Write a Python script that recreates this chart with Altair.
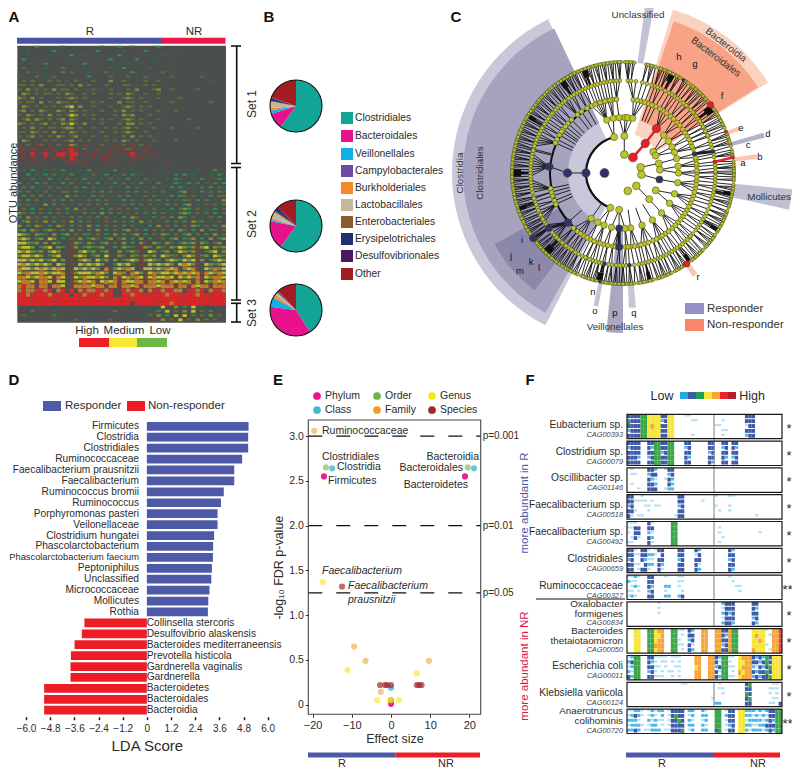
import math
import altair as alt
import pandas as pd

FONT = "Liberation Sans"
INK = "#2b2b2b"

# ---------- Panel A ----------
HEAT_LEVELS = {"d": "#2f6a48", "g": "#2c9150", "o": "#5f6a38", "v": "#7f8c30", "y": "#bdbf2e",
               "a": "#c07a2c", "m": "#7c4038", "r": "#d9272a"}
HEAT_THICK = {"d": 0.45, "g": 0.45, "o": 0.5, "v": 0.6, "y": 0.65, "a": 0.9, "m": 0.6, "r": 1.0}
A_ROWS = [
"....g.....d........d...g..d.....g...............",
"..d.....g.........g.....d....g......d...........",
".......d....g..d.......g.........d..............",
".g.........d.........g.....g...d................",
"...d..g........g..d......d.........d............",
".o....d...o..........d..g.....d.................",
"..o.d.....g.o...d...o.....g......o..............",
"d...o.d.o.......g....o...o.d.o.....o......o.....",
".o.o...o.o.d.o...o...v..o....o..o...........d...",
"oo.o.v...oo.o.v.o...o...oo.d.o.o................",
"o.v.o.o.v.oo.o...o.d.o...o.v...ov..o.....o......",
".vo.o.oo.o.vo..o.o...o.o.vo..o..o...............",
"vo.v.o...o.ovo.o.....o..ovo.o...o....o..........",
"o.oo.v.o.voo.o...o.o...v.oo..o.....o........o...",
".vo.o.o.o.ovy.v..o...o..ovo.o.o.................",
"ov.o.vo..vo.vo.o...o..o.v.o.o...o...o...........",
"o.vo.o.v.o.oyv.o.o....o.vov...o.................",
".ov.vo.o.ov.vo...o.o.o..ovo.o...o......o........",
"vo.o.ov.o.voyo.v...o...o.vv.o.o.................",
".o.v.o.oo.ovv.o..o..o.o.ov.o...o...o.....o......",
"oo.vo.o.v.o.vo.o...o..o.ovo..o..................",
"o.ov.o.o.vo.ov...o..o...o.v.o.o.................",
".vo.m.o.o.mov.o.o...o.o.vo.o...o....o...........",
"m.o.mo.m.o.mvo.m...o..m.o.m.o.m.................",
".m.mm.m.m.mmrm.o..m..m..mom..m..................",
"mm.r.mrm.rrmrr.m.m..mm.m.mrm.m.m................",
".m.m..m.m.m.rm...m.mm.....m.m...................",
"m..m.m.....m.m.m....m.m...m.......m.............",
"................................................",
".d.g..d.d.g...d.g..d..g...d....d.........d...g..",
"..g.d.g.o.d.g..d.o..g.d.o.g.d....d..g.g.d...d.gd",
".d.o.d.g.d.o.d.g.d.d.o.d.g.d.o.d..d.gd..d.g..dgd",
"g.d.g.o.d.g.o.d.o.g.d.g.o.d.g.d.g...gd.g.o.d.o.g",
".o.g.d.o.o.d.o.g.o.d.o.d.g.o.d.o.d.g.gd.d.o.g.od",
"g.o.d.o.d.oo.g.d.o.g.o.d.o.g.o.d.o...gv.d.g.o.go",
".g.o.g.o.d.v.o.d.g.o.d.o.g.d.o.o.d.g.go.o.d.g.oo",
"o.g.o.d.o.g.o.d.o.g.o.d.g.o.d.o.g.o.d.go.g.o.d.v",
"g.o.d.v.g.o.d.o.o.o.g.d.o.g.o.o.d.g.o.gv.d.o.o.g",
".o.g.o.d.o.g.v.o.d.g.o.o.o.g.d.o.d.g.ovg.o.d.g.o",
"vo.g.o.g.o.o.d.g.o.v.g.o.d.o.o.g.o.d.gvg.o.o.g.o",
"g.v.o.g.o.d.g.o.o.g.o.d.g.vo.d.g.o.g.vg.o.d.o.g.",
".gv.o.v.g.o.v.g.o.d.o.g.o.g.v.o.d.g.o.g.vog.d.o.v",
"v.g.vo.g.vo.g.o.v.g.o.o.g.o.d.g.v.o.g.o.vg.o.g.v.",
"gv.vo.gvo.g.v.o.g.v.g.o.gv.o.g.o.o.g.vo.g.v.go.o.",
"yvg.vgo.v.gv.o.go.o.g.v.g.ov.g.o.vg.o.gv.o.g.v.og",
"vyv.gv.yv.g.o.v.gvo.gv.ov.g.v.g..o.gv.gov.g.v.gvo",
"yyvgv.v.vg..mvg.vo.gv.o.v.g.vm.vg.vo.gvgv.vg.ov.v",
"vyyv.gvy.vg.mv.gvgov..g.vgo.mvg.vo.vgyvgvmvy.vgv.",
"yvyvgv.vyv..m.vygv.gv..v.gvom.yv.gv.oyvgvm.gvy.vg",
"vyyvyv.gvy..mvyv.gv.y..vo.vgmvgv.yvgo.vyvmgv.yvgv",
"yyvyvygvy.v.m.vyv.ygv.v.gvyvmvyvg.vyvgyvymv.gvyv",
"yayvyvyv.yv.m.yvyvyv..gyvyo.m.yvyvyv.yayvm.yvgvyv",
"ayyvyayvyay.myvyvyv.a.vyvay.myyvyvaya.vyam.yvavya",
"yvayyayvyya.mvyyyvayv.yav.ayvmyavyyvyayayamayvayv",
"aayvyaaymay.myvayyvyv.amyavaymyayyaymyvyvamyvaaya",
"yaaymaaymyy.mvyayamyayamayyaamaayamayayamamyvayaa",
"araamaamaay.maaaayaamaamaayamaaayaaamaamayaamaaam",
"araarrarmar.rmaraarrar.mrarramarrarraamrrarmarra",
"rrarrrrarrrrmrrarrrarr.mrrarrrrrrrarrrrrrarrrrrrr",
"rrrrrrrrrrrrrrrrrrrrrrrrrrrrrrrrrrrrrrrrrrrrrrrrr",
"rrrrrrrrrrrrrrrrrrrrrrrrrrmrrrrrrrrarrrrrrrrrrrrr",
".................................y..v.g.y.d......",
"...o....d.............o.........g.y.o.v.y.o.g....",
".o......o.....d...............o.v.g.y.y.g.o.v.o..",
"........d....o.......o.........m.v.o.y.o.v.g.o...",
]

# ---------- Panel B ----------
ORDERS = ["Clostridiales", "Bacteroidales", "Veillonellales", "Campylobacterales", "Burkholderiales",
          "Lactobacillales", "Enterobacteriales", "Erysipelotrichales", "Desulfovibrionales", "Other"]
ORDER_COLORS = ["#12a596", "#e8128c", "#12aee8", "#6f4ba0", "#f58a2a", "#c4b89a", "#8a5a28", "#22306e",
                "#4a1a5e", "#a31c22"]
PIE_SET1 = [60, 10, 2, 0.3, 1.5, 4, 0.5, 1.5, 0.7, 19.5]
PIE_SET2 = [60, 18, 1, 0.2, 1, 4, 1, 2, 1, 11.8]
PIE_SET3 = [41, 36, 6, 0.2, 2, 1.5, 0.5, 0.4, 0.4, 12]

# ---------- Panel C ----------
RING1 = [4, 32.5, 72, 95, 134, 165, 270]
RING2 = [2, 37, 55, 62, 75, 85, 100, 118, 135, 186, 200, 270, 346]
RING3 = [2, 5, 10, 37, 47, 55, 62, 68, 75, 83, 90, 100, 112, 123, 136, 148, 160, 172, 178, 184, 192, 200, 207,
         215, 270, 343, 350, 356]
RING4 = [8, 14, 20, 26, 33, 40, 47, 54, 60, 66, 71, 75, 80, 85, 90, 96, 102, 108, 114, 120, 126, 132, 138, 145,
         150, 156, 163, 168, 174, 178, 183, 188, 195, 200, 206, 212, 218, 228, 248, 252, 255, 275, 297, 301,
         306, 312, 322, 335, 340, 344, 348, 352,
         11, 17, 23, 30, 36, 43, 50, 57, 63, 69, 78, 83, 88, 93, 99, 105, 111, 117, 123, 129, 135, 142, 148, 153, 160,
         166, 171, 176, 186, 192, 198, 203, 209, 215, 222, 245, 258, 294, 304, 309, 316, 326, 331, 338, 342, 346,
         350, 355]
RING5 = [3, 8, 15, 20, 24, 27, 30, 34, 38, 41, 44, 47, 50, 54, 58, 61, 64, 67, 70, 74, 76.5, 80, 83, 87, 90, 94,
         98, 102, 106, 110, 113, 116, 120, 124, 128, 131, 134, 138, 142, 146, 150, 154, 158, 162, 166, 170, 173,
         176, 180, 184, 187, 191.5, 195, 199, 203, 206, 209, 213, 216, 219, 222, 225, 228, 233.5, 238, 241, 244,
         248, 252, 255, 258, 262, 266, 270, 274, 278, 282, 285, 289, 293, 297, 300, 304, 308, 311, 315, 319,
         322, 326, 330, 334, 338, 342, 346, 350, 354, 358,
         5, 12, 18, 22, 32, 36, 43, 49, 52, 56, 60, 63, 66, 72, 78, 85, 89, 92, 96, 100, 104, 108, 118, 122, 126, 133,
         136, 140, 144, 148, 152, 156, 160, 164, 168, 178, 182, 189, 193, 197, 201, 204, 211, 214, 218, 221, 224, 226,
         230, 236, 240, 243, 246, 250, 254, 260, 264, 268, 272, 276, 280, 284, 287, 291, 295, 299, 302, 306, 310,
         313, 317, 321, 324, 328, 332, 336, 340, 344, 348, 352, 356]
RING6 = [1, 3, 5, 12, 14, 16, 19, 21, 23, 24, 26, 28, 30, 33, 35, 38, 40, 42, 43, 45, 47, 49, 52, 54, 56, 57, 59,
         61, 63, 65, 68, 70, 72, 73, 75, 78, 80, 82, 85, 87, 88, 90, 92, 94, 97, 99, 101, 103, 104, 106, 108, 111,
         113, 114, 116, 118, 120, 122, 125, 127, 128, 130, 132, 135, 137, 138, 140, 142, 145, 147, 149, 150, 152,
         155, 157, 158, 160, 162, 165, 167, 168, 170, 172, 175, 177, 179, 181, 183, 185, 187, 188, 190, 192, 195,
         197, 199, 200, 202, 205, 207, 209, 210, 212, 214, 216, 218, 219, 221, 223, 225, 227, 229, 230, 232, 234,
         236, 238, 240, 242, 243, 245, 247, 249, 251, 252, 254, 256, 258, 260, 261, 263, 265, 267, 269, 270, 272,
         274, 276, 278, 279, 281, 283, 285, 287, 288, 290, 292, 294, 296, 298, 299, 301, 303, 305, 307, 309, 310,
         312, 314, 316, 318, 319, 321, 323, 325, 327, 329, 331, 333, 335, 337, 339, 341, 343, 345, 347, 349, 351,
         353, 355, 357, 359,
         2, 4, 6, 13, 15, 17, 20, 22, 25, 27, 29, 31, 34, 36, 39, 41, 44, 46, 48, 50, 53, 55, 58, 60, 62, 64, 66, 69,
         71, 74, 76, 79, 81, 84, 86, 89, 91, 93, 96, 98, 100, 102, 105, 107, 110, 112, 115, 117, 119, 121, 124, 126,
         129, 131, 134, 136, 139, 141, 144, 146, 148, 151, 154, 156, 159, 161, 164, 166, 169, 171, 174, 176, 178,
         180, 182, 184, 186, 189, 191, 194, 196, 198, 201, 204, 206, 208, 211, 213, 215, 217, 220, 222, 224, 226,
         228, 231, 233, 235, 237, 239, 241, 244, 246, 248, 250, 253, 255, 257, 259, 262, 264, 266, 268, 271, 273,
         275, 277, 280, 282, 284, 286, 289, 291, 293, 295, 297, 300, 302, 304, 306, 308, 311, 313, 315, 317, 320,
         322, 324, 326, 328, 330, 332, 334, 336, 338, 340, 342, 344, 346, 348, 350, 352, 354, 356, 358]
BLUE_NODES = [(1, 270), (2, 270), (3, 270), (4, 275), (4, 228), (5, 233.5), (6, 234), (3, 184), (4, 183), (2, 100),
              (5, 176), (4, 75), (5, 76.5), (6, 33), (5, 191.5), (6, 192)]
RED_NODES = [(1, 32.5), (2, 37), (3, 37), (6, 52), (6, 145), (5, 83), (6, 82), (6, 68)]
SECTORS = [
    (207, 334, 36, 171, "#c8c8da"), (209, 334.5, 55, 160, "#a5a3be"), (217, 241, 73, 147, "#8b88a9"),
    (17, 58, 40, 171, "#fbd2c0"), (18.5, 57.5, 55, 160, "#f8a286"),
    (7.5, 10.5, 111, 173, "#c3c3d6"), (95.5, 102.5, 111, 170, "#c0c0d2"), (74, 76, 111, 146, "#b3b2cb"),
    (68, 70, 111, 125, "#fbc6b0"), (82, 84, 111, 135, "#fbc6b0"), (143.5, 146, 111, 125, "#fbc6b0"),
    (190.5, 192.5, 111, 136, "#c3c3d6"), (180, 186, 55, 160, "#a9a7c1"), (174.5, 177.5, 111, 135, "#c6c6d8"),
]
THICK_ARCS = [(200, 346, 37, 1.1), (228, 334, 73, 1.0), (212, 240, 73, 1.0)]
BLACK_WEDGES = [(325, 328), (52, 56), (25, 28), (268, 272), (191, 194), (222, 226), (142, 144), (338, 341), (120, 122),
                (100, 102), (250, 252), (300, 302), (165, 167)]
THICK_BLACK = [(3, 184, 4, 183), (4, 75, 5, 76.5), (5, 233.5, 6, 234), (4, 228, 5, 233.5)]
THICK_RED = [(1, 32.5, 2, 37), (2, 37, 3, 37), (5, 83, 6, 82)]

# ---------- Panel D ----------
LDA_NAMES = ["Firmicutes", "Clostridia", "Clostridiales", "Ruminococcaceae", "Faecalibacterium prausnitzii",
             "Faecalibacterium", "Ruminococcus bromii", "Ruminococcus", "Porphyromonas pasteri", "Veilonellaceae",
             "Clostridium hungatei", "Phascolarctobacterium", "Phascolarctobacterium faecium", "Peptoniphilus",
             "Unclassified", "Micrococcaceae", "Mollicutes", "Rothia", "Collinsella stercoris",
             "Desulfovibrio alaskensis", "Bacteroides mediterraneensis", "Prevotella histicola",
             "Gardnerella vaginalis", "Gardnerella", "Bacteroidetes", "Bacteroidales", "Bacteroidia"]
LDA_VALUES = [5.05, 5.03, 5.03, 4.73, 4.34, 4.34, 3.82, 3.68, 3.51, 3.51, 3.34, 3.29, 3.28, 3.23, 3.2, 3.11, 3.05,
              3.03, -3.1, -3.23, -3.59, -3.77, -3.79, -3.79, -5.1, -5.1, -5.1]
LDA_TICKS = [-6, -4.8, -3.6, -2.4, -1.2, 0, 1.2, 2.4, 3.6, 4.8, 6]

# ---------- Panel E ----------
EFFECT = [-17.1, 18.9, 0, -16.6, 19.6, 0, -15, 21.2, 0, -19.6, -9.4, -6.5, 9.7, -2.6, 0, -17.4, -11.1, 6.6, -3.5, 2,
          -0.3, -12.5, -2.8, -1.5, -1, 0, 6.6, 7.2, 7.8]
FDR = [2.55, 2.55, 0.01, 2.65, 2.65, 0.05, 2.64, 2.64, 0.19, 3.06, 0.65, 0.49, 0.49, 0.145, 0.05, 1.37, 0.39, 0.35,
       0.05, 0.05, 0.05, 1.32, 0.22, 0.22, 0.22, 0.22, 0.22, 0.22, 0.22]
RANK = ["Phylum"] * 3 + ["Order"] * 3 + ["Class"] * 3 + ["Family"] * 6 + ["Genus"] * 6 + ["Species"] * 8
RANK_COLORS = {"Phylum": "#e8168c", "Class": "#45b8d0", "Order": "#6fb543", "Family": "#f59a23", "Genus": "#f5e616",
               "Species": "#a3282a"}
RANK_OPACITY = {"Phylum": 0.95, "Class": 0.8, "Order": 0.6, "Family": 0.55, "Genus": 0.6, "Species": 0.7}
P_LINES = [3.0, 2.0, 1.25]
P_LABELS = ["p=0.001", "p=0.01", "p=0.05"]

# ---------- Panel F ----------
F_COLORS = {"l": "#b5e0f2", "c": "#4db8e8", "b": "#3f58a8", "g": "#3aa648", "y": "#f5e63a", "o": "#f7a53a", "r": "#e8492a"}
F_THICK = {"l": 0.45, "c": 0.6, "b": 0.8, "g": 1, "y": 1, "o": 1, "r": 1}
F_SCALE = ["#29abe2", "#3f58a8", "#1fa04f", "#f5e63a", "#f7a53a", "#e8262c", "#b5202c"]
F_STRIPS = [
 ["bbbbggyyyybbyy...ll................bbb........", "gbbbggyyyycbyy.....ll.......l......bbb........",
  "bbbbggyoyybbyy............ll.......lbb........", "cbbbggyyyybbyy..............ll.....bbb........",
  "bbbbggyyyybbyy.....l........l......cbb........"],
 ["bbbb..bbggbbgg...bb.....bb..bb.bb.............", "cbbb..bcggbbgg...cb.....bb..cb.bc.............",
  "bbbb..bbggcbgg...bb.....cb..bb.bb.............", "bbbc..cbggbbgg...bc.....bb..bc.cb.............",
  "bbbb..bbggbbgg...bb.....bc..bb.bb............."],
 [".l....bbc..lbb................................", ".ll...cbb...cb................................",
  "......bcl..lbc................................", ".l....bbc...bc................................",
  "...l..bbb..lcc................................"],
 ["bb..l..........bb.........l...ll..............", "bbllll.l.......bb.....l.......................",
  "cb...ll.ll.....cb.........l...l...............", "bbl...l........bb..........l..l...............",
  "bl.ll.........lbb.....................l......."],
 ["lll...bl.....gg...............................", "llbb..bb.....gg............l..................",
  "l.bb..cl.....gg............l...........l......", ".lbl..bc.....gg.............l.................",
  "ll....bl.....gg............l.................."],
 ["bbl.bbl.lbb....bb...bc........bc..............", "bbllbbccl.b....bb...lb........bb..............",
  "cb..bcll.bb....cb...bb........cb..............", "bbll.bcc.bc....bb...bl........bb..............",
  "bb.lbbl..bl....bb...bc........bc.............."],
 ["llcl..bb...l...ll.............l...............", "cll...bb.......ll..............l..............",
  ".lcl..bc...cc..l................ll............", "ll.l..cb...l....l................l............",
  "lcl...bb...cc..cb............................."],
 [".........l..................cbbb.....bb.......", ".........l..................lbbb.....bc.......",
  ".........l..................cbcb.....bb.......", "............................lbbb.....cb.......",
  "............................cbbc.....bc......."],
 ["..yy..ggyoo..ggll.bc..oo..oobbogg....yyyyl.oor", "..yy..ggyyo..gg.l.bb..oo..oobcogg....yoyy.loor",
  "..yy..ggyoo..ggl..cb..oo..oobbogg....yyoy..oor", "..yy..ggooo..ggll.bl..oo..oocbogg....yyyyl.oor",
  "..yy..ggyoo..gg.l.bc..oo..oobbogg....oyyy.loor"],
 ["lcgg..bbllll.lll....oo..oobcggll.yooobcbcgbyyy", "cbgg..bcl.ll.l.l....oo..ooblggl..yyoobbcbgbyyy",
  "lcgg..bbll.l..ll....yo..oocbggll.yoooclbcbgyyy", "clgg..cbl.l.ll.l....oo..ooblgg.l.oyoobcbbgbyyy",
  "bcgg..bblll..l.l....oo..oobcggll.yooocbcbbgyyy"],
 ["................ll.........l.......bg......ll.", "...........................ll......bb.....lll.",
  "............................l......gb.....l.l.", ".........................l.........bg......ll.",
  "..........................cc.......bb.....ll.b"],
 ["llccl.lclcc.lbbbb.cc..cl..gg.lbb.yyccclclcbbgg", "lcbcl.lcl.c.lbgbb.lc..cc..gg.cbb.yycclclclbbgg",
  "cccl..clcll.lbbgb.cl..lc..gg.lbb.yylcccclcbcgg", "lcccl.lcc.l.lbbbb.cc..cl..gg.lcb.yyccllccbbbgg",
  "ccbc.llccc.llbbbg.lc..cc..bg.lbb.yyclccclcbcgg"],
]
F_NAMES = [["Eubacterium sp."], ["Clostridium sp."], ["Oscillibacter sp."], ["Faecalibacterium sp."],
           ["Faecalibacterium sp."], ["Clostridiales"], ["Ruminococcaceae"], ["Oxalobacter", "formigenes"],
           ["Bacteroides", "thetaiotaomicron"], ["Escherichia coli"], ["Klebsiella variicola"],
           ["Anaerotruncus", "colihominis"]]
F_CODES = ["CAG00393", "CAG00079", "CAG01146", "CAG00518", "CAG00492", "CAG00659", "CAG00327", "CAG00834",
           "CAG00050", "CAG00011", "CAG00124", "CAG00720"]
F_STARS = ["*", "*", "*", "*", "*", "*", "**", "*", "*", "*", "*", "**"]


def px(v):
    return v - 8


def py(v):
    return v - 8


def no_x(f="x"):
    return alt.X(f"{f}:Q", scale=None, axis=None)


def no_y(f="y"):
    return alt.Y(f"{f}:Q", scale=None, axis=None)


def texts(rows, size=11, color=INK, align="center", font=FONT, **kw):
    df = pd.DataFrame([{"x": px(a), "y": py(b), "t": c} for a, b, c in rows])
    return alt.Chart(df).mark_text(fontSize=size, color=color, align=align, baseline="middle", font=font, **kw).encode(
        x=no_x(), y=no_y(), text="t:N")


def rects(rows):
    df = pd.DataFrame([{"x": px(a), "y": py(b), "x2": px(c), "y2": py(d), "c": e} for a, b, c, d, e in rows])
    return alt.Chart(df).mark_rect().encode(x=no_x(), x2="x2:Q", y=no_y(), y2="y2:Q",
                                            color=alt.Color("c:N", scale=None))


def rules(rows, width=1.5, color="#111111", **kw):
    df = pd.DataFrame([{"x": px(a), "y": py(b), "x2": px(c), "y2": py(d)} for a, b, c, d in rows])
    return alt.Chart(df).mark_rule(strokeWidth=width, color=color, **kw).encode(x=no_x(), x2="x2:Q", y=no_y(), y2="y2:Q")


layers = []

# Panel letters
layers.append(texts([(14, 17, "A"), (269, 17, "B"), (456, 17, "C"), (14, 380, "D"), (278, 380, "E"), (530, 380, "F")],
                    size=15, color="#111111", fontWeight="bold"))

# ----- A
layers.append(rects([(17.3, 45.7, 226, 322.7, "#4a4e4c")]))
a_cells = [{"col": j, "col2": j + 1, "row": i, "row2": i + HEAT_THICK[ch], "c": HEAT_LEVELS[ch]}
           for i, row in enumerate(A_ROWS) for j, ch in enumerate(row[:48]) if ch != "."]
layers.append(alt.Chart(pd.DataFrame(a_cells)).mark_rect().encode(
    x=alt.X("col:Q", scale=alt.Scale(domain=[0, 48], range=[px(17.3), px(226)], nice=False, zero=False), axis=None),
    x2="col2:Q",
    y=alt.Y("row:Q", scale=alt.Scale(domain=[0, len(A_ROWS)], range=[py(45.7), py(322.7)], nice=False, zero=False),
            axis=None),
    y2="row2:Q",
    color=alt.Color("c:N", scale=None)))
layers.append(rects([(17, 37.7, 162, 43.7, "#4a52a3"), (162, 37.7, 225.5, 43.7, "#ee1848"),
                     (79, 338, 109, 347, "#ee2024"), (109, 338, 137, 347, "#f7e92f"), (137, 338, 167, 347, "#6cb844")]))
layers.append(texts([(90, 32, "R"), (194, 32, "NR"), (87, 331, "High"), (124, 331, "Medium"), (160, 331, "Low")], size=11.5))
layers.append(rules([(236.7, 46, 236.7, 163.5), (236.7, 167.5, 236.7, 300), (236.7, 303.3, 236.7, 322),
                     (231, 46, 241, 46), (231, 163.5, 241, 163.5), (231, 167.5, 241, 167.5), (231, 300, 241, 300),
                     (231, 303.3, 241, 303.3), (231, 322, 241, 322)], width=1.6))
layers.append(texts([(252, 104, "Set 1"), (252, 224, "Set 2"), (252, 313, "Set 3")], size=12, angle=270))
layers.append(texts([(13.5, 183, "OTU abundance")], size=11, angle=270))

# ----- B
pie_rows = []
ring_rows = []
for cy, vals in [(106, PIE_SET1), (226, PIE_SET2), (310, PIE_SET3)]:
    total = sum(vals)
    acc = 0.0
    for v, c in zip(vals, ORDER_COLORS):
        pie_rows.append({"x": px(296), "y": py(cy), "a": acc / total * 2 * math.pi,
                         "a2": (acc + v) / total * 2 * math.pi, "r": 26, "c": c})
        acc += v
    ring_rows.append({"x": px(296), "y": py(cy), "a": 0, "a2": 2 * math.pi, "r": 26})
layers.append(alt.Chart(pd.DataFrame(pie_rows)).mark_arc().encode(
    x=no_x(), y=no_y(), theta=alt.Theta("a:Q", scale=None), theta2=alt.Theta2("a2:Q"),
    radius=alt.Radius("r:Q", scale=None), color=alt.Color("c:N", scale=None)))
layers.append(alt.Chart(pd.DataFrame(ring_rows)).mark_arc(fillOpacity=0, stroke="#111111", strokeWidth=1.1).encode(
    x=no_x(), y=no_y(), theta=alt.Theta("a:Q", scale=None), theta2=alt.Theta2("a2:Q"),
    radius=alt.Radius("r:Q", scale=None)))
LEG_Y = [118, 136, 154, 171, 188, 205, 222, 239, 256, 274]
layers.append(rects([(341, y - 6, 353, y + 6, c) for y, c in zip(LEG_Y, ORDER_COLORS)]))
layers.append(texts([(355, y, n) for y, n in zip(LEG_Y, ORDERS)], size=10.3, align="left"))

# ----- C
CX, CY = 623, 173
sector_df = pd.DataFrame([{"x": px(CX), "y": py(CY), "a": math.radians(a), "a2": math.radians(b), "r": r, "r2": r2, "c": c}
                          for a, b, r, r2, c in SECTORS])
layers.append(alt.Chart(sector_df).mark_arc().encode(
    x=no_x(), y=no_y(), theta=alt.Theta("a:Q", scale=None), theta2=alt.Theta2("a2:Q"),
    radius=alt.Radius("r:Q", scale=None), radius2=alt.Radius2("r2:Q"), color=alt.Color("c:N", scale=None)))

RINGS = {1: RING1, 2: RING2, 3: RING3, 4: RING4, 5: RING5, 6: RING6}
TREE_X = alt.Scale(domain=[-6, 6], range=[px(CX - 111), px(CX + 111)], nice=False, zero=False)
TREE_Y = alt.Scale(domain=[-6, 6], range=[py(CY + 111), py(CY - 111)], nice=False, zero=False)


def tx(ring, ang):
    return ring * math.sin(math.radians(ang))


def ty(ring, ang):
    return ring * math.cos(math.radians(ang))


def circ(a, b):
    return abs((a - b + 180) % 360 - 180)


edges = []
for ring in range(2, 7):
    for ang in RINGS[ring]:
        par = min(RINGS[ring - 1], key=lambda o: circ(o, ang))
        if circ(par, ang) > 8:
            if ring == 2:
                continue
            par = ang
        if ring == 2 and ang == 270:
            continue
        edges.append({"x": tx(ring, ang), "y": ty(ring, ang), "x2": tx(ring - 1, par), "y2": ty(ring - 1, par)})


def tree_rules(df, width, color):
    return alt.Chart(df).mark_rule(strokeWidth=width, color=color).encode(
        x=alt.X("x:Q", scale=TREE_X, axis=None), x2="x2:Q",
        y=alt.Y("y:Q", scale=TREE_Y, axis=None), y2="y2:Q")


layers.append(tree_rules(pd.DataFrame(edges), 0.9, "#111111"))
arc_rows = [{"x": px(CX), "y": py(CY), "a": math.radians(a), "a2": math.radians(b), "r": r - w, "r2": r + w}
            for a, b, r, w in THICK_ARCS]
for a, b in BLACK_WEDGES:
    mid, half = (a + b) / 2, (b - a) / 2
    arc_rows.append({"x": px(CX), "y": py(CY), "a": math.radians(mid - half), "a2": math.radians(mid + half), "r": 102, "r2": 110})
    arc_rows.append({"x": px(CX), "y": py(CY), "a": math.radians(mid - half * 0.4), "a2": math.radians(mid + half * 0.4), "r": 93, "r2": 102})
layers.append(alt.Chart(pd.DataFrame(arc_rows)).mark_arc(color="#111111").encode(
    x=no_x(), y=no_y(), theta=alt.Theta("a:Q", scale=None), theta2=alt.Theta2("a2:Q"),
    radius=alt.Radius("r:Q", scale=None), radius2=alt.Radius2("r2:Q")))
layers.append(tree_rules(pd.DataFrame([{"x": tx(a, b), "y": ty(a, b), "x2": tx(c, d), "y2": ty(c, d)}
                                       for a, b, c, d in THICK_BLACK]), 3, "#1a1a2a"))
layers.append(tree_rules(pd.DataFrame([{"x": tx(a, b), "y": ty(a, b), "x2": tx(c, d), "y2": ty(c, d)}
                                       for a, b, c, d in THICK_RED]), 2.5, "#e8202a"))
NODE_SIZE = {1: 60, 2: 50, 3: 42, 4: 24, 5: 16, 6: 11}
BIG = {(1, 270): 80, (2, 270): 70, (3, 270): 70, (1, 32.5): 80, (2, 37): 70, (3, 37): 70, (4, 275): 60, (4, 228): 60,
       (6, 234): 50, (5, 233.5): 50, (4, 183): 50, (3, 184): 50, (6, 52): 40, (6, 145): 40}
nodes = []
for ring, angs in RINGS.items():
    for ang in angs:
        kind = 2 if (ring, ang) in BLUE_NODES else 3 if (ring, ang) in RED_NODES else 1
        nodes.append({"x": tx(ring, ang), "y": ty(ring, ang), "k": kind, "s": BIG.get((ring, ang), NODE_SIZE[ring]),
                      "c": {1: "#bcc52a", 2: "#2e3368", 3: "#e8202a"}[kind]})
nodes.sort(key=lambda d: d["k"])
layers.append(alt.Chart(pd.DataFrame(nodes)).mark_circle(stroke="#3a3a20", strokeWidth=0.5, opacity=1).encode(
    x=alt.X("x:Q", scale=TREE_X, axis=None), y=alt.Y("y:Q", scale=TREE_Y, axis=None),
    size=alt.Size("s:Q", scale=None), color=alt.Color("c:N", scale=None), order="k:Q"))
layers.append(texts([(638, 15, "Unclassified"), (769, 197, "Mollicutes"), (615, 327, "Veillonellales")], size=9.8, color="#333333"))
layers.append(texts([(726, 45, "Bacteroidia")], size=9.8, color="#333333", angle=38))
layers.append(texts([(716, 57, "Bacteroidales")], size=9.8, color="#333333", angle=37))
layers.append(texts([(460, 173, "Clostridia"), (480, 173, "Clostridiales")], size=9.8, color="#333333", angle=270))
layers.append(texts([(743, 163, "a"), (760, 157, "b"), (748, 145, "c"), (768, 134, "d"), (741, 128, "e"), (722, 96, "f"),
                     (695, 64, "g"), (679, 57, "h"), (522, 240, "i"), (511, 256, "j"), (531, 262, "k"), (539, 268, "l"),
                     (520, 271, "m"), (593, 292, "n"), (595, 311, "o"), (615, 313, "p"), (634, 313, "q"), (698, 277, "r")],
                    size=9.5, color="#111111"))
layers.append(rects([(685, 303, 704, 314, "#9490c8"), (685, 319, 704, 331, "#f9886b")]))
layers.append(texts([(707, 309, "Responder"), (707, 325, "Non-responder")], size=11.5, align="left", color="#333333"))

# ----- D
lda_df = pd.DataFrame({"name": LDA_NAMES, "v": LDA_VALUES})
lda_df["c"] = ["#4e5aa8" if v > 0 else "#ee1c25" for v in LDA_VALUES]
lda_df["lx"] = [px(139) if v > 0 else px(146.7) for v in LDA_VALUES]
LDA_Y = alt.Scale(domain=LDA_NAMES, range=[py(420.84), py(715.7)], paddingInner=0.2, paddingOuter=0.1)
layers.append(alt.Chart(lda_df).mark_bar().encode(
    x=alt.X("v:Q", scale=alt.Scale(domain=[-6, 6], range=[px(26), px(267.7)], nice=False),
            axis=alt.Axis(orient="bottom", offset=py(716.7) - 760, values=LDA_TICKS,
                          labelExpr="datum.value == 0 ? '0' : format(datum.value, '.1f')", title="LDA Score",
                          labelFlush=False, labelOverlap=False, labelBound=False,
                          domain=False, grid=False, tickColor="#222222", tickWidth=1.5, tickSize=3, labelFont=FONT,
                          labelFontSize=10, labelColor=INK, labelPadding=4, titleFont=FONT, titleFontSize=15,
                          titleFontWeight="normal", titleColor=INK, titlePadding=5)),
    y=alt.Y("name:N", scale=LDA_Y, axis=None),
    color=alt.Color("c:N", scale=None)))
wide = lda_df.name.str.len() >= 29
layers.append(alt.Chart(lda_df[(lda_df.v > 0) & ~wide]).mark_text(fontSize=10.2, color=INK, align="right", baseline="middle", font=FONT).encode(
    x=no_x("lx"), y=alt.Y("name:N", scale=LDA_Y, axis=None), text="name:N"))
layers.append(alt.Chart(lda_df[wide]).mark_text(fontSize=9.3, color=INK, align="right", baseline="middle", font=FONT).encode(
    x=no_x("lx"), y=alt.Y("name:N", scale=LDA_Y, axis=None), text="name:N"))
layers.append(alt.Chart(lda_df[lda_df.v < 0]).mark_text(fontSize=10.2, color=INK, align="left", baseline="middle", font=FONT).encode(
    x=no_x("lx"), y=alt.Y("name:N", scale=LDA_Y, axis=None), text="name:N"))
layers.append(rects([(43, 401, 61, 411, "#4e5aa8"), (127, 401, 145, 411, "#ee1c25")]))
layers.append(texts([(65, 406, "Responder"), (148, 406, "Non-responder")], size=11.5, align="left"))

# ----- E
E_X = alt.Scale(domain=[-21.1, 22.9], range=[px(308.3), px(480.7)], nice=False, zero=False)
E_Y = alt.Scale(domain=[-0.107, 3.18], range=[py(714.3), py(420)], nice=False, zero=False)
p_df = pd.DataFrame({"x": -21.1, "x2": 22.9, "y": P_LINES, "lab": P_LABELS})
layers.append(alt.Chart(p_df).mark_rule(strokeWidth=1.3, color="#111111", strokeDash=[14, 14]).encode(
    x=alt.X("x:Q", scale=E_X, axis=None), x2="x2:Q", y=alt.Y("y:Q", scale=E_Y, axis=None)))
layers.append(alt.Chart(pd.DataFrame({"x": [-21.1], "x2": [22.9], "y": [-0.107], "y2": [3.18]})).mark_rect(
    fillOpacity=0, stroke="#444444", strokeWidth=1.1).encode(
    x=alt.X("x:Q", scale=E_X,
            axis=alt.Axis(orient="bottom", offset=py(714.3) - 760, values=[-20, -10, 0, 10, 20], title="Effect size",
                          labelFlush=False, labelOverlap=False, labelBound=False,
                          domain=False, grid=False, tickColor="#333333", tickSize=3, labelFont=FONT, labelFontSize=11,
                          labelColor=INK, labelPadding=2, labelExpr="replace(format(datum.value, 'd'), '-', '−')",
                          titleFont=FONT, titleFontSize=12.5, titleFontWeight="normal", titleColor=INK, titlePadding=2)),
    x2="x2:Q",
    y=alt.Y("y:Q", scale=E_Y,
            axis=alt.Axis(orient="left", offset=-px(308.3), values=[0, 0.5, 1, 1.5, 2, 2.5, 3], title="-log₁₀ FDR p-value",
                          labelFlush=False, labelOverlap=False, labelBound=False,
                          domain=False, grid=False, tickColor="#333333", tickSize=3, labelFont=FONT, labelFontSize=10.5,
                          labelColor=INK, labelPadding=2, labelExpr="datum.value == 0 ? '0' : format(datum.value, '.1f')",
                          titleFont=FONT, titleFontSize=12.5, titleFontWeight="normal", titleColor=INK, titlePadding=3)),
    y2="y2:Q"))
e_df = pd.DataFrame({"x": EFFECT, "y": FDR, "r": RANK})
e_df["c"] = e_df.r.map(RANK_COLORS)
e_df["o"] = e_df.r.map(RANK_OPACITY)
layers.append(alt.Chart(e_df).mark_circle(size=38).encode(
    x=alt.X("x:Q", scale=E_X, axis=None), y=alt.Y("y:Q", scale=E_Y, axis=None),
    color=alt.Color("c:N", scale=None), opacity=alt.Opacity("o:Q", scale=None)))
layers.append(alt.Chart(p_df).mark_text(fontSize=10, color=INK, align="left", baseline="middle", font=FONT, dx=2).encode(
    x=alt.X("x2:Q", scale=E_X, axis=None), y=alt.Y("y:Q", scale=E_Y, axis=None), text="lab:N"))
E_LEG = [("Phylum", 317, 396), ("Class", 317, 410), ("Order", 377, 396), ("Family", 377, 410), ("Genus", 432, 396), ("Species", 432, 410)]
layers.append(alt.Chart(pd.DataFrame([{"x": px(a), "y": py(b), "c": RANK_COLORS[n]} for n, a, b in E_LEG])).mark_circle(
    size=60, opacity=1).encode(x=no_x(), y=no_y(), color=alt.Color("c:N", scale=None)))
layers.append(texts([(a + 8, b, n) for n, a, b in E_LEG], size=10.5, align="left"))
layers.append(texts([(322, 431, "Ruminococcaceae"), (322, 457, "Clostridiales"), (337, 467, "Clostridia"), (328, 481, "Firmicutes")],
                    size=10.5, align="left"))
layers.append(texts([(479, 457, "Bacteroidia"), (463, 468, "Bacteroidales"), (468, 485, "Bacteroidetes")], size=10.5, align="right"))
layers.append(texts([(322, 571, "Faecalibacterium"), (348, 586, "Faecalibacterium"), (348, 600, "prausnitzii")],
                    size=10.5, align="left", fontStyle="italic"))
layers.append(rects([(308, 752.5, 395.7, 757.5, "#4e5aa8"), (395.7, 752.5, 480, 757.5, "#ee1c25"),
                     (626, 752.5, 713, 757.5, "#4e5aa8"), (713, 752.5, 780, 757.5, "#ee1c25")]))
layers.append(texts([(342, 764, "R"), (446, 764, "NR"), (662, 764, "R"), (758, 764, "NR")], size=11))

# ----- F
F_H = 0.91
f_cells = []
for s, strip in enumerate(F_STRIPS):
    nrow = len(strip)
    for i, row in enumerate(strip):
        for j, ch in enumerate(row[:46]):
            if ch != ".":
                f_cells.append({"col": j, "col2": j + 1, "y": s + i * F_H / nrow,
                                "y2": s + (i + F_THICK[ch]) * F_H / nrow, "c": F_COLORS[ch]})
F_SX = alt.Scale(domain=[0, 46], range=[px(627), px(782)], nice=False, zero=False)
F_SY = alt.Scale(domain=[0, 12], range=[py(414.3), py(735.9)], nice=False, zero=False)
layers.append(alt.Chart(pd.DataFrame(f_cells)).mark_rect().encode(
    x=alt.X("col:Q", scale=F_SX, axis=None), x2="col2:Q", y=alt.Y("y:Q", scale=F_SY, axis=None), y2="y2:Q",
    color=alt.Color("c:N", scale=None)))
layers.append(rules([(714, 414, 714, 492), (714, 495, 714, 519), (714, 522, 714, 546), (714, 549, 714, 573),
                     (714, 576, 714, 599), (714, 602, 714, 626), (714, 682, 714, 706)], width=1.1, color="#888888"))
frame_df = pd.DataFrame({"x": [0] * 12, "x2": [46] * 12, "y": list(range(12)), "y2": [s + F_H for s in range(12)]})
layers.append(alt.Chart(frame_df).mark_rect(fillOpacity=0, stroke="#1a1a1a", strokeWidth=1.2).encode(
    x=alt.X("x:Q", scale=F_SX, axis=None), x2="x2:Q", y=alt.Y("y:Q", scale=F_SY, axis=None), y2="y2:Q"))
name_rows, name2_rows, code_rows, star_rows = [], [], [], []
for s, (nm, code, st) in enumerate(zip(F_NAMES, F_CODES, F_STARS)):
    top = 414.3 + s * 26.8
    if len(nm) == 1:
        name_rows.append((623, top + 10.5, nm[0]))
        code_rows.append((623, top + 20.5, code))
    else:
        name2_rows.append((623, top + 2.2, nm[0]))
        name2_rows.append((623, top + 12, nm[1]))
        code_rows.append((623, top + 21.5, code))
    star_rows.append((787.5 if len(st) > 1 else 789, top + 14.5, st))
layers.append(texts(name_rows, size=10.2, align="right"))
layers.append(texts(name2_rows, size=9.8, align="right"))
layers.append(texts(code_rows, size=7.4, align="right", fontStyle="italic", color="#444444"))
layers.append(texts(star_rows, size=13))
layers.append(rules([(536, 599, 625, 599)], width=1.1, color="#111111"))
layers.append(texts([(525, 503, "more abundant in R")], size=11.5, color="#4e5aa8", angle=270))
layers.append(texts([(525, 666, "more abundant in NR")], size=11.5, color="#d9184a", angle=270))
layers.append(rects([(680 + i * 8, 392, 688 + i * 8, 399, c) for i, c in enumerate(F_SCALE)]))
layers.append(texts([(662, 396, "Low"), (752, 396, "High")], size=12.5))

chart = alt.layer(*layers).resolve_scale(x="independent", y="independent").properties(
    width=784, height=760, padding=0, autosize=alt.AutoSizeParams(type="none")
).configure_view(stroke=None)

chart.save("out.html", embed_options={"renderer": "svg", "actions": False})
